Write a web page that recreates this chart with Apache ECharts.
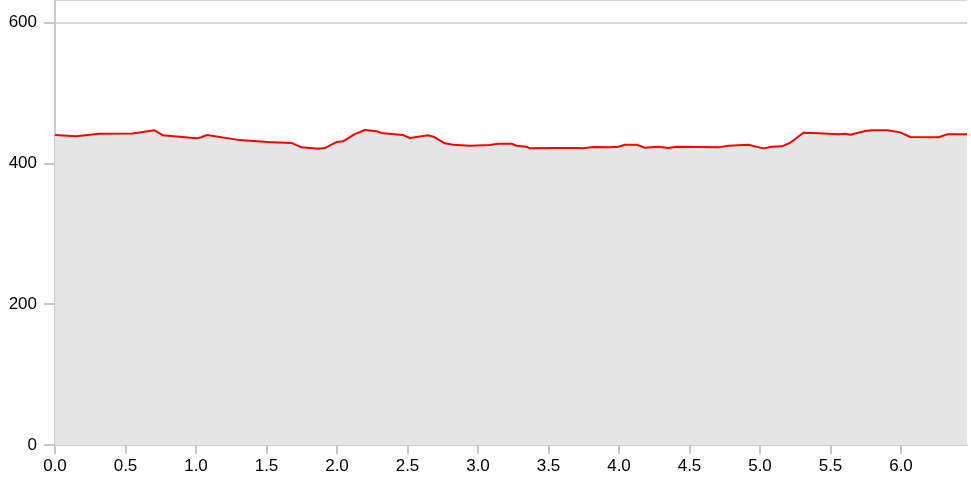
<!DOCTYPE html>
<html>
<head>
<meta charset="utf-8">
<script src="https://cdn.jsdelivr.net/npm/echarts@6/dist/echarts.min.js"></script>
<style>
html,body{margin:0;padding:0;background:#fff;}
#chart{width:971px;height:478px;}
</style>
</head>
<body>
<div id="chart"></div>
<script>
const xValues = [0, 0.150, 0.316, 0.550, 0.706, 0.763, 1.002, 1.038, 1.078, 1.310, 1.508, 1.677, 1.748, 1.866, 1.913, 1.996, 2.043, 2.126, 2.197, 2.280, 2.327, 2.469, 2.517, 2.623, 2.646, 2.694, 2.765, 2.824, 2.942, 3.084, 3.143, 3.238, 3.274, 3.345, 3.368, 3.534, 3.700, 3.747, 3.818, 3.936, 3.995, 4.043, 4.126, 4.185, 4.279, 4.350, 4.410, 4.705, 4.776, 4.918, 4.953, 5.025, 5.084, 5.155, 5.214, 5.308, 5.415, 5.557, 5.604, 5.640, 5.746, 5.794, 5.901, 5.995, 6.066, 6.267, 6.327, 6.468];
const yValues = [440.2, 438.4, 442.0, 442.3, 446.9, 440.0, 435.5, 437.0, 440.2, 433.0, 430.3, 429.0, 422.7, 420.8, 421.7, 430.3, 431.3, 441.6, 447.3, 445.5, 442.6, 440.2, 436.0, 439.3, 439.8, 437.0, 428.4, 426.5, 425.0, 426.0, 427.9, 427.9, 425.0, 423.6, 421.3, 421.7, 421.7, 421.3, 423.2, 422.7, 423.6, 426.5, 426.5, 422.2, 423.6, 421.7, 423.6, 422.7, 425.0, 426.5, 424.6, 421.3, 423.6, 424.2, 429.3, 443.5, 442.6, 441.2, 442.0, 440.6, 445.9, 446.9, 446.9, 444.0, 437.4, 437.0, 441.2, 441.2];
const xMax = 6.468;
const yMax = 632;

const data = xValues.map((x, i) => [x, yValues[i]]);
const chart = echarts.init(document.getElementById('chart'), null, {renderer: 'canvas'});
const labelFont = {color: '#000', fontSize: 17, fontFamily: 'Liberation Sans, Arial, sans-serif'};
chart.setOption({
  animation: false,
  grid: {left: 55, right: 4, top: 0, bottom: 33, containLabel: false},
  xAxis: {
    type: 'value', min: 0, max: xMax, interval: 0.5,
    axisLine: {show: true, lineStyle: {color: '#cccccc', width: 2}},
    axisTick: {show: true, length: 9, lineStyle: {color: '#c8c8c8', width: 2}},
    axisLabel: Object.assign({margin: 13, showMaxLabel: false, formatter: v => v.toFixed(1)}, labelFont),
    splitLine: {show: false}
  },
  yAxis: {
    type: 'value', min: 0, max: yMax, interval: 200,
    axisLine: {show: true, lineStyle: {color: '#cccccc', width: 2}},
    axisTick: {show: true, length: 11, lineStyle: {color: '#c8c8c8', width: 2}},
    axisLabel: Object.assign({margin: 18, showMaxLabel: false}, labelFont),
    splitLine: {show: true, lineStyle: {color: '#d9d9d9', width: 2}}
  },
  series: [{
    type: 'line', data: data, showSymbol: false, symbol: 'none',
    lineStyle: {color: '#ff0000', width: 2},
    areaStyle: {color: '#e5e5e5', opacity: 1},
    z: 2
  }]
});
</script>
</body>
</html>
